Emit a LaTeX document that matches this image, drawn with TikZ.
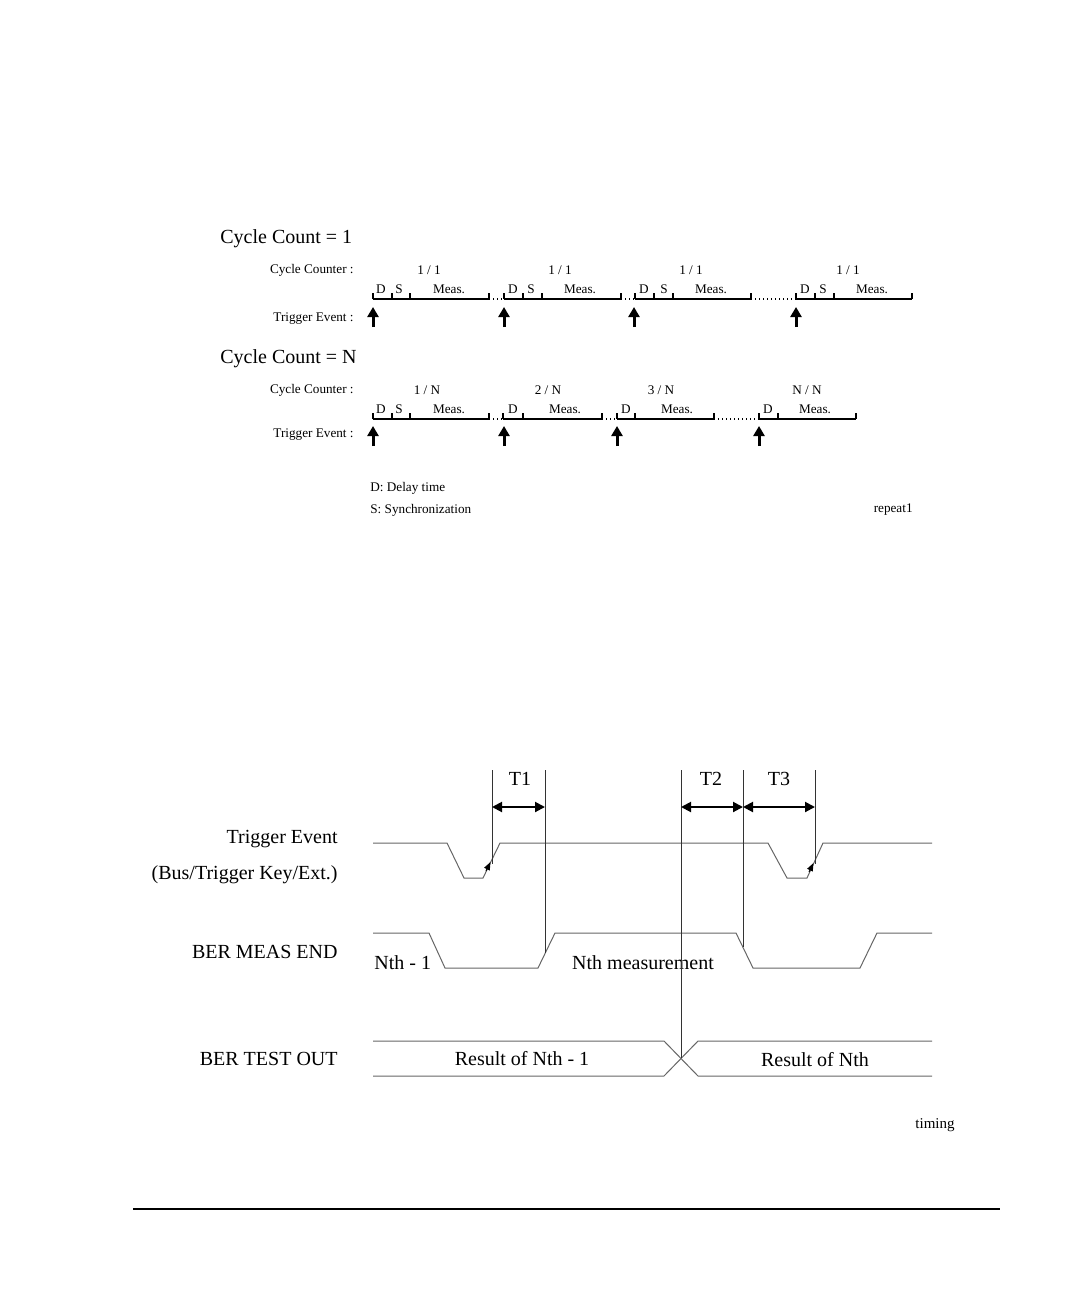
\documentclass[tikz,border=0pt]{standalone}
\usepackage{fontspec}
\setmainfont{Liberation Serif}
\usetikzlibrary{arrows.meta,positioning}

\begin{document}
\begin{tikzpicture}[
  x=0.5pt, y=-0.5pt,
  big/.style={font=\fontsize{10}{12}\selectfont, inner sep=0pt},
  small/.style={font=\fontsize{6.6}{8}\selectfont, inner sep=0pt},
  seg/.style={line width=1pt},
  tickline/.style={line width=0.9pt},
  dotgap/.style={line width=0.8pt, dash pattern=on 0.7pt off 1.3pt},
  trig/.style={-{Triangle[length=5pt,width=5.5pt]}, line width=1.5pt},
  wave/.style={draw=black!60, line width=0.5pt},
  marker/.style={draw=black!80, line width=0.5pt},
  edgetip/.style={-{Triangle[length=4pt,width=3pt]}, line width=0.5pt},
  dimline/.style={{Triangle[length=5pt,width=5pt]}-{Triangle[length=5pt,width=5pt]}, line width=1pt}
]
\useasboundingbox (0,0) rectangle (1080,1296);

% Cycle Count = 1
\node[big, anchor=west] (cc1) at (220,239) {Cycle Count = 1};
\node[small, anchor=east] (ctr1) at (354,270) {Cycle Counter :};
\node[small, anchor=east] (trg1) at (354,319) {Trigger Event :};
\node[small] (c11) at (429,270) {1 / 1};
\node[small] (c12) at (560,270) {1 / 1};
\node[small] (c13) at (691,270) {1 / 1};
\node[small] (c14) at (848,270) {1 / 1};
\node[small] (d11) at (381,289) {D};
\node[small] (s11) at (399,289) {S};
\node[small] (m11) at (449,289) {Meas.};
\node[small] (d12) at (513,289) {D};
\node[small] (s12) at (531,289) {S};
\node[small] (m12) at (580,289) {Meas.};
\node[small] (d13) at (644,289) {D};
\node[small] (s13) at (664,289) {S};
\node[small] (m13) at (711,289) {Meas.};
\node[small] (d14) at (805,289) {D};
\node[small] (s14) at (823,289) {S};
\node[small] (m14) at (872,289) {Meas.};

\draw[seg] (373,299) -- (489,299);
\draw[seg] (504,299) -- (621,299);
\draw[seg] (635,299) -- (751,299);
\draw[seg] (796,299) -- (912,299);
\draw[dotgap] (489,299) -- (504,299);
\draw[dotgap] (621,299) -- (635,299);
\draw[dotgap] (751,299) -- (796,299);
\foreach \x in {373,392,410,489,504,523,542,621,635,654,673,751,796,815,834,912}
  \draw[tickline] (\x,299) -- (\x,293);
\foreach \x in {373,504,634,796}
  \draw[trig] (\x,327) -- (\x,307);

% Cycle Count = N
\node[big, anchor=west] (ccn) at (220,359) {Cycle Count = N};
\node[small, anchor=east] (ctrn) at (354,390) {Cycle Counter :};
\node[small, anchor=east] (trgn) at (354,435) {Trigger Event :};
\node[small] (cn1) at (427,390) {1 / N};
\node[small] (cn2) at (548,390) {2 / N};
\node[small] (cn3) at (661,390) {3 / N};
\node[small] (cn4) at (807,390) {N / N};
\node[small] (dn1) at (381,409) {D};
\node[small] (sn1) at (399,409) {S};
\node[small] (mn1) at (449,409) {Meas.};
\node[small] (dn2) at (513,409) {D};
\node[small] (mn2) at (565,409) {Meas.};
\node[small] (dn3) at (626,409) {D};
\node[small] (mn3) at (677,409) {Meas.};
\node[small] (dn4) at (768,409) {D};
\node[small] (mn4) at (815,409) {Meas.};

\draw[seg] (373,419) -- (489,419);
\draw[seg] (503,419) -- (602,419);
\draw[seg] (617,419) -- (714,419);
\draw[seg] (759,419) -- (856,419);
\draw[dotgap] (489,419) -- (503,419);
\draw[dotgap] (602,419) -- (617,419);
\draw[dotgap] (714,419) -- (759,419);
\foreach \x in {373,392,410,489,503,523,602,617,635,714,759,778,856}
  \draw[tickline] (\x,419) -- (\x,413);
\foreach \x in {373,504,617,759}
  \draw[trig] (\x,446) -- (\x,426);

\node[small, anchor=west] (legd) at (370,488) {D: Delay time};
\node[small, anchor=west] (legs) at (370,510) {S: Synchronization};
\node[small, anchor=east] (rep) at (913,510) {repeat1};

% timing chart
\node[big, anchor=east] (lte) at (338,839) {Trigger Event};
\node[big, anchor=east] (lsrc) at (338,875) {(Bus/Trigger Key/Ext.)};
\node[big, anchor=east] (lme) at (338,952) {BER MEAS END};
\node[big, anchor=east] (lto) at (338,1059) {BER TEST OUT};

\draw[wave] (373,843) -- (447,843) -- (464,878) -- (483,878) -- (500,843)
  -- (768,843) -- (787,878) -- (807,878) -- (823,843) -- (932,843);
\draw[edgetip] (486,871) -- (490.5,862);
\draw[edgetip] (809,872) -- (813.5,863);

\draw[wave] (373,933) -- (429,933) -- (445,968) -- (538,968) -- (555,933)
  -- (736,933) -- (753,968) -- (860,968) -- (877,933) -- (932,933);
\node[big, anchor=west] (nm1) at (374,963) {Nth - 1};
\node[big] (nth) at (643,963) {Nth measurement};

\draw[wave] (373,1041) -- (664,1041) -- (698,1076) -- (932,1076);
\draw[wave] (373,1076) -- (664,1076) -- (698,1041) -- (932,1041);
\node[big] (res1) at (522,1059) {Result of Nth - 1};
\node[big] (res2) at (815,1060) {Result of Nth};

\coordinate (t1a) at (492,807);
\coordinate (t1b) at (545,807);
\coordinate (t2a) at (681,807);
\coordinate (t2b) at (743,807);
\coordinate (t3b) at (815,807);
\draw[marker] (492,770) -- (492,864);
\draw[marker] (545,770) -- (545,953);
\draw[marker] (681,770) -- (681,1058);
\draw[marker] (743,770) -- (743,947);
\draw[marker] (815,770) -- (815,864);
\draw[dimline] (t1a) -- (t1b);
\draw[dimline] (t2a) -- (t2b);
\draw[dimline] (t2b) -- (t3b);
\node[big] (lt1) at (520,779) {T1};
\node[big] (lt2) at (711,779) {T2};
\node[big] (lt3) at (779,779) {T3};

\node[font=\fontsize{7.5}{9}\selectfont, inner sep=0pt, anchor=east] (tim) at (955,1125) {timing};
\draw[line width=1pt] (133,1209) -- (1000,1209);
\end{tikzpicture}
\end{document}
